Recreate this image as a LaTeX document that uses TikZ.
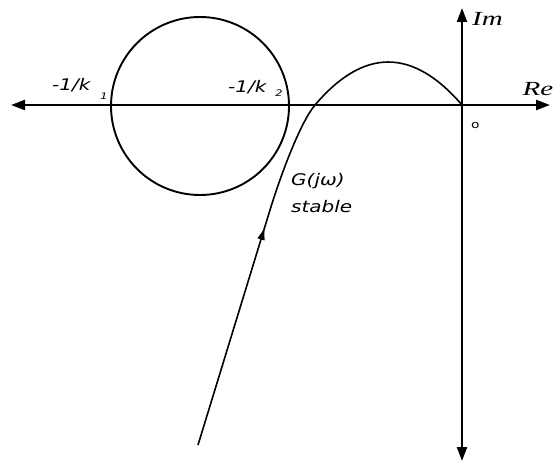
\documentclass[tikz,border=0pt]{standalone}
\usepackage{fontspec}
\setmainfont{DejaVu Serif}
\newfontfamily\lblfont[FakeStretch=1.25]{DejaVu Sans}
\newfontfamily\axfont[FakeStretch=1.45]{Liberation Serif}
\usetikzlibrary{arrows.meta,decorations.markings}
\begin{document}
\begin{tikzpicture}[x=1pt,y=-1pt,
  axis/.style={line width=2.3pt,-{Triangle[length=14pt,width=10pt]}},
  curv/.style={line width=1.6pt},
  lbl/.style={font=\lblfont\itshape\fontsize{16}{18}\selectfont, inner sep=0pt},
  axl/.style={font=\axfont\itshape\fontsize{20}{22}\selectfont, inner sep=0pt},
  sub/.style={font=\lblfont\itshape\fontsize{9}{10}\selectfont, inner sep=0pt}]
\useasboundingbox (0,0) rectangle (554,462);
\coordinate (O) at (462,105);
\coordinate (L) at (11,105);
\coordinate (R) at (550,105);
\coordinate (T) at (462,8);
\coordinate (B) at (462,461);
\draw[axis] (O) -- (L);
\draw[axis] (O) -- (R);
\draw[axis] (O) -- (T);
\draw[axis] (O) -- (B);
\draw[line width=1.9pt] (200,106) circle (89);
\coordinate (S) at (198,445);
\coordinate (K) at (270,210);
\coordinate (C) at (315,105);
\draw[curv, postaction={decorate}, decoration={markings, mark=at position 0.92 with {\arrow{Triangle[length=11pt,width=7pt]}}}] (S) -- (K);
\draw[curv] (K) .. controls (280.5,175.5) and (300.4,122.2) .. (C) .. controls (363.7,47.7) and (412.7,47.7) .. (O);
\node[lbl, anchor=west] (k1) at (52,85) {-1/k};
\node[sub] (s1) at (104,96) {1};
\node[lbl, anchor=west] (k2) at (228,87) {-1/k};
\node[sub] (s2) at (279,93) {2};
\node[lbl, anchor=west] (g) at (291,181) {G(jω)};
\node[lbl, anchor=west] (st) at (291,207) {stable};
\node[axl, anchor=west] (im) at (472,19) {Im};
\node[axl, anchor=east] (re) at (553.5,89) {Re};
\node[lbl, anchor=west, font=\lblfont\fontsize{11}{12}\selectfont] (o) at (471,125) {o};
\end{tikzpicture}
\end{document}
